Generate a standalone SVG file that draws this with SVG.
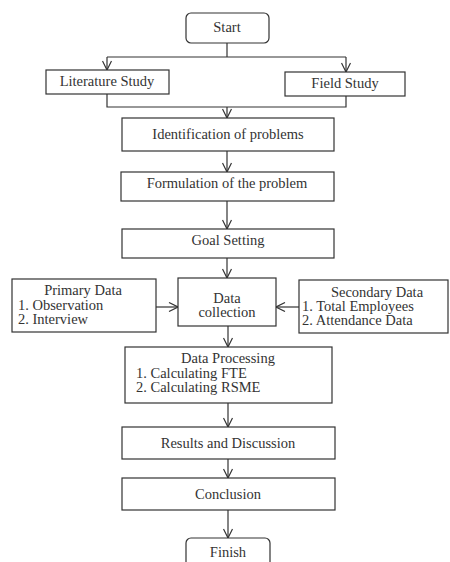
<svg xmlns="http://www.w3.org/2000/svg" width="450" height="562" viewBox="0 0 450 562">
<style>
.b{fill:#fff;stroke:#333;stroke-width:1.2}
.t{font-family:"Liberation Serif","Times New Roman",serif;font-size:14.5px;fill:#333}
.c{text-anchor:middle}
.l{fill:none;stroke:#333;stroke-width:1.2}
</style>
<defs>
<marker id="a" viewBox="0 0 10 10" refX="10" refY="5" markerWidth="10" markerHeight="10" markerUnits="userSpaceOnUse" orient="auto">
<path d="M1,0.5 L10,5 L1,9.5" fill="none" stroke="#333" stroke-width="1.2"/>
</marker>
</defs>
<rect width="450" height="562" fill="#fff"/>
<g id="connectors">
<path class="l" d="M227,43 V57 M107,57 H346"/>
<path class="l" d="M107,57 V70" marker-end="url(#a)"/>
<path class="l" d="M346,57 V72" marker-end="url(#a)"/>
<path class="l" d="M107,94 V107 H346 V96"/>
<path class="l" d="M227,107 V118" marker-end="url(#a)"/>
<path class="l" d="M227,151 V172" marker-end="url(#a)"/>
<path class="l" d="M227,201 V229" marker-end="url(#a)"/>
<path class="l" d="M227,258 V278" marker-end="url(#a)"/>
<path class="l" d="M156,307 H178" marker-end="url(#a)"/>
<path class="l" d="M299,307 H276" marker-end="url(#a)"/>
<path class="l" d="M228,326 V347" marker-end="url(#a)"/>
<path class="l" d="M228,403 V427" marker-end="url(#a)"/>
<path class="l" d="M228,459 V478" marker-end="url(#a)"/>
<path class="l" d="M228,510 V538" marker-end="url(#a)"/>
</g>
<g id="start"><rect class="b" x="186" y="13" width="83" height="30" rx="5"/><text class="t c" x="227" y="32">Start</text></g>
<g id="literature"><rect class="b" x="46" y="70" width="123" height="24"/><text class="t c" x="107" y="86">Literature Study</text></g>
<g id="field"><rect class="b" x="285" y="72" width="120" height="24"/><text class="t c" x="345" y="88">Field Study</text></g>
<g id="identification"><rect class="b" x="122" y="118" width="212" height="33"/><text class="t c" x="228" y="139">Identification of problems</text></g>
<g id="formulation"><rect class="b" x="121" y="172" width="213" height="29"/><text class="t c" x="227" y="188">Formulation of the problem</text></g>
<g id="goal"><rect class="b" x="122" y="229" width="212" height="29"/><text class="t c" x="228" y="245">Goal Setting</text></g>
<g id="primary"><rect class="b" x="12" y="279" width="144" height="53"/><text class="t c" x="83" y="295">Primary Data</text><text class="t" x="18" y="309.5">1. Observation</text><text class="t" x="18" y="323.5">2. Interview</text></g>
<g id="collection"><rect class="b" x="178" y="278" width="98" height="48"/><text class="t c" x="227" y="302.5">Data</text><text class="t c" x="227" y="317">collection</text></g>
<g id="secondary"><rect class="b" x="299" y="280" width="149" height="53"/><text class="t c" x="377" y="296.5">Secondary Data</text><text class="t" x="302" y="311">1. Total Employees</text><text class="t" x="302" y="325">2. Attendance Data</text></g>
<g id="processing"><rect class="b" x="125" y="347" width="207" height="56"/><text class="t c" x="228" y="363">Data Processing</text><text class="t" x="136" y="377.5">1. Calculating FTE</text><text class="t" x="136" y="391.5">2. Calculating RSME</text></g>
<g id="results"><rect class="b" x="122" y="427" width="213" height="32"/><text class="t c" x="228" y="448">Results and Discussion</text></g>
<g id="conclusion"><rect class="b" x="122" y="478" width="213" height="32"/><text class="t c" x="228" y="499">Conclusion</text></g>
<g id="finish"><rect class="b" x="186" y="538" width="84" height="40" rx="5"/><text class="t c" x="228" y="557">Finish</text></g>
</svg>
